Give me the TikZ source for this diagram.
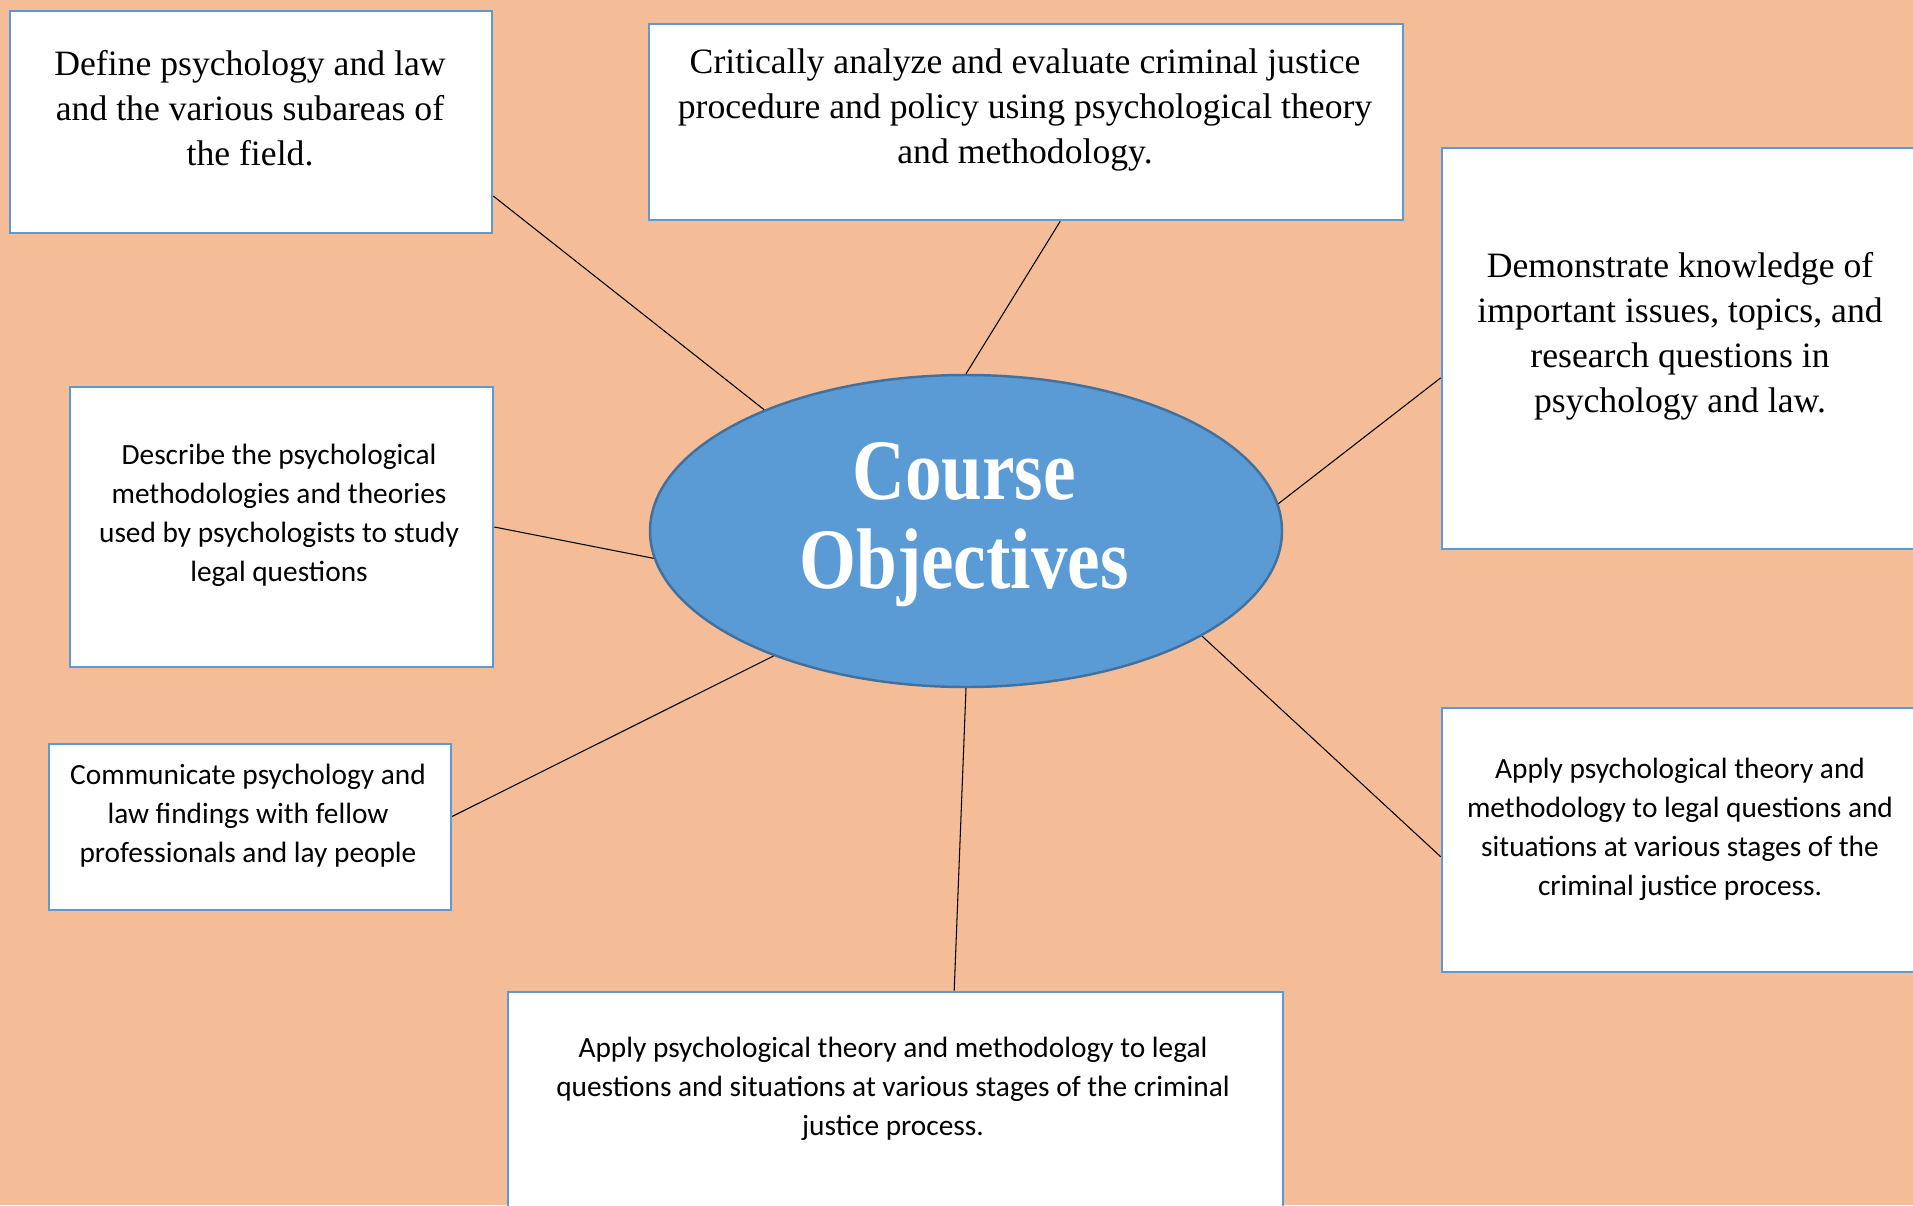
\documentclass[tikz,border=0pt]{standalone}
\usepackage{fontspec}
\setmainfont{Liberation Serif}
\newfontfamily\calibrifont{Carlito}
\newfontfamily\headfont[FakeStretch=0.85]{Liberation Serif}
\usetikzlibrary{shapes.geometric}

\definecolor{peach}{RGB}{245,188,152}
\definecolor{boxblue}{RGB}{91,155,213}
\definecolor{hubedge}{RGB}{65,113,156}

\tikzset{
	objbox/.style={draw=boxblue, line width=1.5pt, fill=white, inner sep=0pt},
	serif text/.style={align=center, font=\fontsize{20.3}{25.6}\selectfont},
	sans text/.style={align=center, font=\calibrifont\fontsize{16.7}{22.2}\selectfont},
	spoke/.style={black, line width=0.6pt}
}

\begin{document}
\begin{tikzpicture}
			\clip (0,0) rectangle (38.26,-24.1);
			\fill [peach] (0,0) rectangle (38.26,-24.1);
			% boxes round the hub
			\node (define) [objbox, minimum width=9.64cm, minimum height=4.44cm] at (5.02,-2.44) {};
			\node (critique) [objbox, minimum width=15.08cm, minimum height=3.92cm] at (20.52,-2.44) {};
			\node (demonstrate) [objbox, minimum width=9.52cm, minimum height=8.02cm] at (33.6,-6.97) {};
			\node (describe) [objbox, minimum width=8.46cm, minimum height=5.6cm] at (5.63,-10.54) {};
			\node (communicate) [objbox, minimum width=8.04cm, minimum height=3.32cm] at (5.0,-16.54) {};
			\node (applyside) [objbox, minimum width=9.52cm, minimum height=5.28cm] at (33.6,-16.8) {};
			\node (applybase) [objbox, minimum width=15.5cm, minimum height=4.76cm] at (17.91,-22.22) {};
			\node (define-t) [serif text] at (5.0,-2.16) {Define psychology and law\\and the various subareas of\\the field.};
			\node (critique-t) [serif text] at (20.5,-2.2) {Critically analyze and evaluate criminal justice\\procedure and policy using psychological theory\\and methodology.};
			\node (demonstrate-t) [serif text] at (33.6,-6.72) {Demonstrate knowledge of\\important issues, topics, and\\research questions in\\psychology and law.};
			\node (describe-t) [sans text] at (5.58,-10.3) {Describe the psychological\\methodologies and theories\\used by psychologists to study\\legal questions};
			\node (communicate-t) [sans text] at (4.96,-16.31) {Communicate psychology and\\law findings with fellow\\professionals and lay people};
			\node (applyside-t) [sans text] at (33.6,-16.59) {Apply psychological theory and\\methodology to legal questions and\\situations at various stages of the\\criminal justice process.};
			\node (applybase-t) [sans text] at (17.86,-21.77) {Apply psychological theory and methodology to legal\\questions and situations at various stages of the criminal\\justice process.};
			% hub
			\node (hub) [ellipse, draw=hubedge, line width=1.4pt, fill=boxblue, inner sep=0pt, minimum width=12.64cm, minimum height=6.24cm] at (19.32,-10.62) {};
			\node (hub-t) [align=center, text=white, font=\headfont\bfseries\fontsize{49}{50.6}\selectfont] at (19.28,-10.5) {Course\\Objectives};
			\draw [spoke] (define.343) -- (hub.149);
			\draw [spoke] (critique.289) -- (hub.90);
			\draw [spoke] (demonstrate.187) -- (hub.5);
			\draw [spoke] (describe.east) -- (hub.185);
			\draw [spoke] (communicate.3) -- (hub.213);
			\draw [spoke] (hub.336) -- (applyside.184);
			\draw [spoke] (hub.270) -- (applybase.64);
		\end{tikzpicture}
\end{document}
